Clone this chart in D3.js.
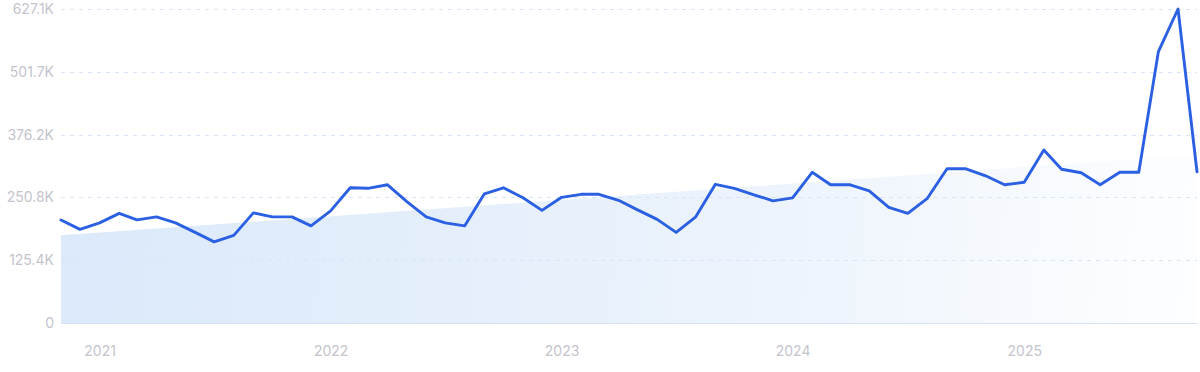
<!DOCTYPE html>
<html>
<head>
<meta charset="utf-8">
<script src="https://cdn.jsdelivr.net/npm/d3@7"></script>
<style>
  html, body { margin: 0; padding: 0; background: #fff; }
  svg { display: block; font-family: Inter, "Noto Sans", sans-serif; }
</style>
</head>
<body>
<svg id="chart" width="1200" height="372"></svg>
<script>
// ---- data ----
const startMonth = "2020-11";
const values = [
  205.7, 187, 200, 219, 206, 212, 200, 181, 162, 175, 220, 212,
  212, 194, 224, 270, 269, 276, 243, 212, 200, 194, 258, 270,
  250, 225, 251, 257, 257, 245, 226, 207, 181, 212, 277, 269,
  256, 244, 250, 301, 276, 276, 264, 231, 219, 249, 308, 308,
  294, 276, 281, 345.5, 307, 300, 276, 301, 301, 542, 627.1, 302
]; // thousands
const trendValues = [175, 336]; // thousands, trend area start / end
const yTicks = [0, 125.4, 250.8, 376.2, 501.7, 627.1];
const yTickLabels = ["0", "125.4K", "250.8K", "376.2K", "501.7K", "627.1K"];
const xTickYears = [2021, 2022, 2023, 2024, 2025];
const xTickLabels = ["2021", "2022", "2023", "2024", "2025"];

// ---- build ----
const parse = d3.timeParse("%Y-%m");
const start = parse(startMonth);
const data = values.map((v, i) => ({ date: d3.timeMonth.offset(start, i), value: v }));

const W = 1200, H = 372;
const m = { left: 61, right: 3, top: 9, bottom: 49 };
const svg = d3.select("#chart");

const x = d3.scaleTime()
  .domain(d3.extent(data, d => d.date))
  .range([m.left, W - m.right]);
const y = d3.scaleLinear()
  .domain([0, d3.max(yTicks)])
  .range([H - m.bottom, m.top]);

const defs = svg.append("defs");
const grad = defs.append("linearGradient")
  .attr("id", "areaGrad")
  .attr("gradientUnits", "userSpaceOnUse")
  .attr("x1", m.left).attr("y1", y(trendValues[0]))
  .attr("x2", W - m.right).attr("y2", H - m.bottom);
grad.append("stop").attr("offset", "0%").attr("stop-color", "#dbe9fa");
grad.append("stop").attr("offset", "60%").attr("stop-color", "#ecf3fc");
grad.append("stop").attr("offset", "100%").attr("stop-color", "#fdfeff");

// trend area
const trendData = [
  { date: data[0].date, value: trendValues[0] },
  { date: data[data.length - 1].date, value: trendValues[1] }
];
svg.append("path")
  .datum(trendData)
  .attr("fill", "url(#areaGrad)")
  .attr("d", d3.area().x(d => x(d.date)).y0(y(0)).y1(d => y(d.value)));

// grid lines
const gridTicks = yTicks.filter(t => t > 0);
svg.append("g")
  .selectAll("line")
  .data(gridTicks)
  .join("line")
  .attr("x1", m.left).attr("x2", W - m.right)
  .attr("y1", d => Math.round(y(d)) + 0.5).attr("y2", d => Math.round(y(d)) + 0.5)
  .attr("stroke", "#d6e6f8")
  .attr("stroke-width", 1)
  .attr("stroke-dasharray", "4,5");

// baseline
svg.append("line")
  .attr("x1", m.left).attr("x2", W - m.right)
  .attr("y1", Math.round(y(0)) + 0.5).attr("y2", Math.round(y(0)) + 0.5)
  .attr("stroke", "#d3e2f6")
  .attr("stroke-width", 1.2);

// y axis labels
const yAxis = d3.axisLeft(y)
  .tickValues(yTicks)
  .tickFormat((d, i) => yTickLabels[i])
  .tickSize(0)
  .tickPadding(7);
const gy = svg.append("g").attr("transform", `translate(${m.left},0)`).call(yAxis);
gy.select(".domain").remove();
gy.selectAll("text")
  .attr("fill", "#c3c4cc")
  .style("font-size", "14px")
  .style("font-family", "Inter, 'Noto Sans', sans-serif");

// x axis labels
const xAxis = d3.axisBottom(x)
  .tickValues(xTickYears.map(yr => new Date(yr, 0, 1)))
  .tickFormat((d, i) => xTickLabels[i])
  .tickSize(0)
  .tickPadding(0);
const gx = svg.append("g").attr("transform", `translate(0,${H - m.bottom + 23})`).call(xAxis);
gx.select(".domain").remove();
gx.selectAll("text")
  .attr("fill", "#c3c4cc")
  .style("font-size", "14px")
  .style("font-family", "Inter, 'Noto Sans', sans-serif");

// line
svg.append("path")
  .datum(data)
  .attr("fill", "none")
  .attr("stroke", "#2c60e2")
  .attr("stroke-width", 2.9)
  .attr("stroke-linejoin", "round")
  .attr("stroke-linecap", "round")
  .attr("d", d3.line().x(d => x(d.date)).y(d => y(d.value)));
</script>
</body>
</html>
